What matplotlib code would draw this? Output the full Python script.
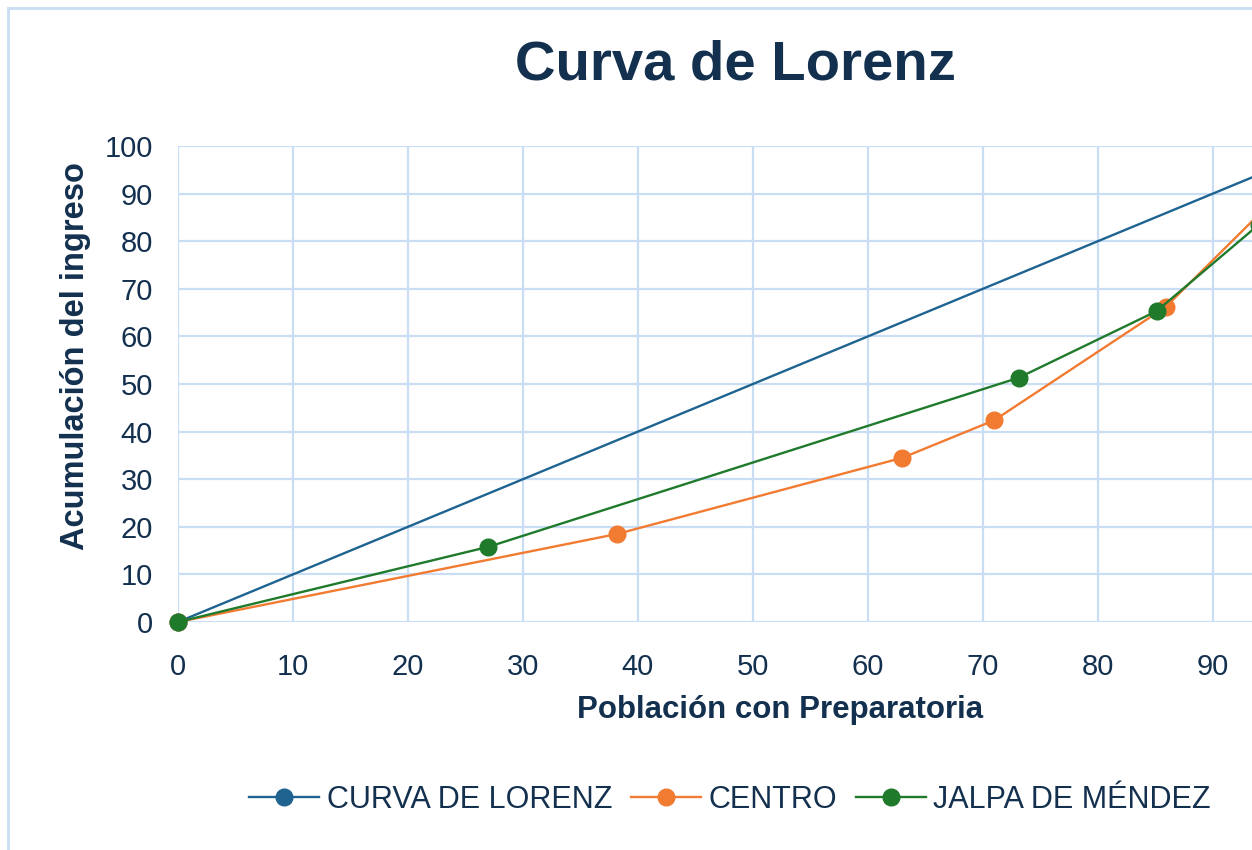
import matplotlib
matplotlib.use("Agg")
import matplotlib.pyplot as plt
from matplotlib.patches import Rectangle
from matplotlib.lines import Line2D

plt.rcParams['font.family'] = ['Liberation Sans', 'DejaVu Sans']

# Data
lorenz_x = [0, 100]
lorenz_y = [0, 100]
centro_x = [0, 38.2, 63.0, 71.0, 85.9, 100]
centro_y = [0, 18.5, 34.5, 42.4, 66.2, 100]
jalpa_x = [0, 27.0, 73.1, 85.1, 94.0, 100]
jalpa_y = [0, 15.8, 51.3, 65.3, 83.5, 100]
series_names = ["CURVA DE LORENZ", "CENTRO", "JALPA DE MÉNDEZ"]
colors = ["#1F6391", "#F27B32", "#1F7A2C"]

title = "Curva de Lorenz"
xlabel = "Población con Preparatoria"
ylabel = "Acumulación del ingreso"
xticks = list(range(0, 100, 10))
yticks = list(range(0, 101, 10))

text_color = "#13304F"
grid_color = "#C9DDF5"

W, H = 1252, 850
fig = plt.figure(figsize=(W / 100, H / 100), dpi=100)
fig.patch.set_facecolor("white")
# chart border
fig.patches.append(Rectangle((8 / W, -0.1), 1.2, 1 - 8 / H + 0.1, transform=fig.transFigure,
                             fill=False, edgecolor="#C9DDF3", linewidth=2.0, zorder=0))

ax = fig.add_axes([178 / W, 1 - 622 / H, 1 - 178 / W, (622 - 146) / H])
ax.set_xlim(0, 93.4)
ax.set_ylim(0, 100)
ax.set_xticks(xticks)
ax.set_yticks(yticks)
ax.grid(True, color=grid_color, linewidth=1.6)
ax.set_axisbelow(True)
for s in ax.spines.values():
    s.set_visible(False)
ax.tick_params(axis='both', length=0, labelsize=21, labelcolor=text_color)
ax.tick_params(axis='x', pad=22)
ax.tick_params(axis='y', pad=18)

ax.plot(lorenz_x, lorenz_y, color=colors[0], lw=1.7, marker='o', ms=12, markevery=[0],
        label=series_names[0], clip_on=False, zorder=3)
ax.plot(centro_x, centro_y, color=colors[1], lw=1.7, marker='o', ms=12,
        label=series_names[1], clip_on=False, zorder=4)
ax.plot(jalpa_x, jalpa_y, color=colors[2], lw=1.7, marker='o', ms=12,
        label=series_names[2], clip_on=False, zorder=5)

fig.text(780 / W, 1 - 710 / H, xlabel, fontsize=22.5, fontweight='bold', color=text_color,
         ha='center', va='center')
fig.text(76 / W, 1 - 356 / H, ylabel, fontsize=23.5, fontweight='bold', color=text_color,
         ha='center', va='center', rotation=90)
fig.text(735 / W, 1 - 66 / H, title, fontsize=40.5, fontweight='bold', color=text_color,
         ha='center', va='center')

handles = [Line2D([0], [0], color=c, lw=1.7, marker='o', ms=12) for c in colors]
leg = fig.legend(handles, series_names, loc='center', bbox_to_anchor=(730 / W, 1 - 800 / H),
                 ncol=3, frameon=False, fontsize=22, handlelength=2.3, handletextpad=0.25,
                 columnspacing=0.6, labelcolor=text_color)

fig.savefig("out.png", dpi=100, facecolor="white")
